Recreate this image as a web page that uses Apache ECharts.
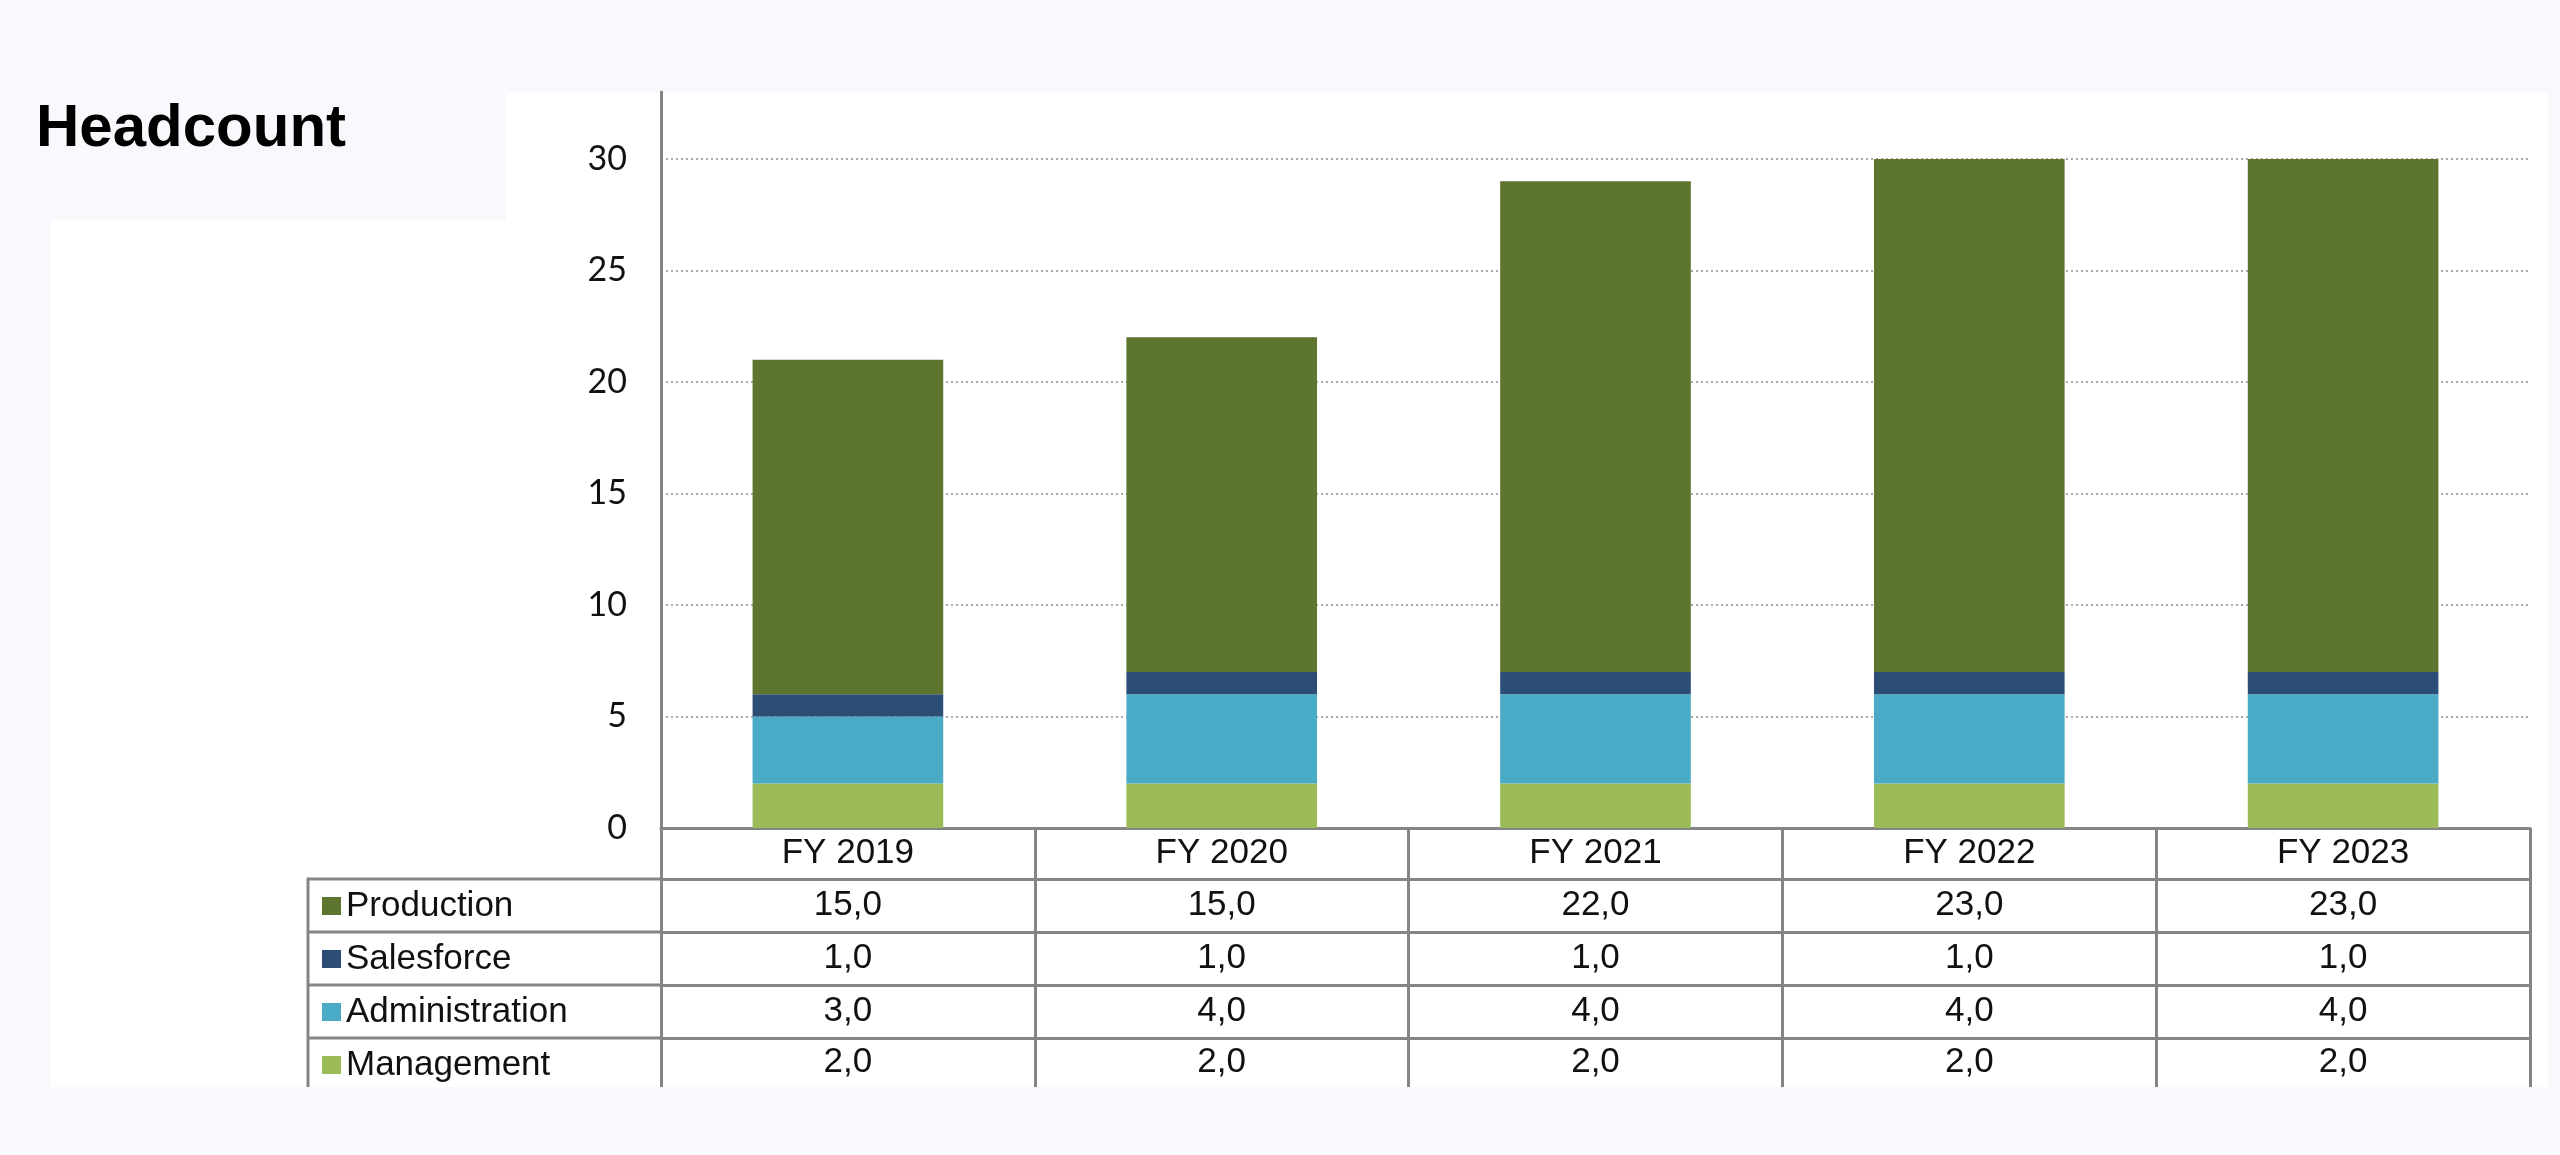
<!DOCTYPE html>
<html>
<head>
<meta charset="utf-8">
<script src="https://cdn.jsdelivr.net/npm/echarts@6/dist/echarts.min.js"></script>
<style>
  html, body { margin: 0; padding: 0; background: #f8f9fd; }
  #main { width: 2560px; height: 1155px; }
</style>
</head>
<body>
<div id="main"></div>
<script>
var years = ['FY 2019', 'FY 2020', 'FY 2021', 'FY 2022', 'FY 2023'];
var production = [15, 15, 22, 23, 23];
var salesforce = [1, 1, 1, 1, 1];
var administration = [3, 4, 4, 4, 4];
var management = [2, 2, 2, 2, 2];

var names = ['Production', 'Salesforce', 'Administration', 'Management'];
var colors = {
    Production: '#5e7530',
    Salesforce: '#2c4d75',
    Administration: '#4aabc6',
    Management: '#9bbb59'
};

// rows of the data table, top to bottom
var tableRows = [production, salesforce, administration, management];

function fmt(v) {
    return v.toFixed(1).replace('.', ',');
}

var lineGray = '#858585';
var lineW = 3;
var tableFont = {
    fontFamily: 'Liberation Sans',
    fontSize: 35,
    lineHeight: 40,
    color: '#111'
};

// table layout (pixels below the x axis line)
var rowOffsets = [51, 104, 157, 210];
var rowMargins = [6, 6, 6, 4];
var gridLeft = 661, gridBottomY = 828, tableLeft = 308, tableBottomY = 1087;

var myChart = echarts.init(document.getElementById('main'));

var xAxes = [{
    type: 'category',
    data: years,
    position: 'bottom',
    axisLine: { lineStyle: { color: lineGray, width: lineW } },
    axisTick: {
        show: true,
        length: tableBottomY - gridBottomY,
        lineStyle: { color: lineGray, width: lineW }
    },
    axisLabel: Object.assign({ margin: 5 }, tableFont)
}];
tableRows.forEach(function (row, i) {
    xAxes.push({
        type: 'category',
        data: row.map(fmt),
        position: 'bottom',
        offset: rowOffsets[i],
        axisLine: { lineStyle: { color: lineGray, width: lineW } },
        axisTick: { show: false },
        axisLabel: Object.assign({ margin: rowMargins[i] }, tableFont)
    });
});

// label column frame of the table
var frame = [];
rowOffsets.forEach(function (off) {
    frame.push({
        type: 'line',
        z: 5,
        shape: { x1: tableLeft, y1: gridBottomY + off, x2: gridLeft, y2: gridBottomY + off },
        style: { stroke: lineGray, lineWidth: lineW }
    });
});
frame.push({
    type: 'line',
    z: 5,
    shape: { x1: tableLeft, y1: gridBottomY + rowOffsets[0] - 1.5, x2: tableLeft, y2: tableBottomY },
    style: { stroke: lineGray, lineWidth: lineW }
});

var stackOrder = [
    ['Management', management],
    ['Administration', administration],
    ['Salesforce', salesforce],
    ['Production', production]
];

var option = {
    backgroundColor: '#f8f9fd',
    animation: false,
    title: {
        text: 'Headcount',
        left: 31,
        top: 94,
        textStyle: {
            fontFamily: 'Liberation Sans',
            fontSize: 60,
            fontWeight: 'bold',
            color: '#000'
        }
    },
    graphic: [{
        type: 'polygon',
        z: -10,
        silent: true,
        shape: {
            points: [[506, 93], [2548, 93], [2548, 1087], [51, 1087], [51, 220], [506, 220]]
        },
        style: { fill: '#ffffff' }
    }].concat(frame),
    legend: {
        data: names,
        orient: 'vertical',
        left: 322,
        top: 886,
        padding: 0,
        itemGap: 13,
        itemWidth: 19,
        itemHeight: 18,
        icon: 'rect',
        selectedMode: false,
        textStyle: tableFont
    },
    grid: {
        left: gridLeft,
        right: 30,
        top: 92,
        bottom: 1155 - gridBottomY
    },
    xAxis: xAxes,
    yAxis: {
        type: 'value',
        min: 0,
        max: 33,
        interval: 5,
        axisLine: { show: true, lineStyle: { color: lineGray, width: lineW } },
        axisTick: { show: false },
        axisLabel: {
            margin: 34,
            fontFamily: 'Lato',
            fontSize: 34,
            color: '#111',
            showMaxLabel: false,
            formatter: function (v) { return v % 5 === 0 ? v : ''; }
        },
        splitLine: {
            showMaxLine: false,
            lineStyle: { color: '#a8a8a8', width: 2, type: [2, 3] }
        }
    },
    series: stackOrder.map(function (s) {
        return {
            name: s[0],
            type: 'bar',
            stack: 'total',
            barWidth: '51%',
            data: s[1],
            itemStyle: { color: colors[s[0]] }
        };
    })
};

myChart.setOption(option);
</script>
</body>
</html>
